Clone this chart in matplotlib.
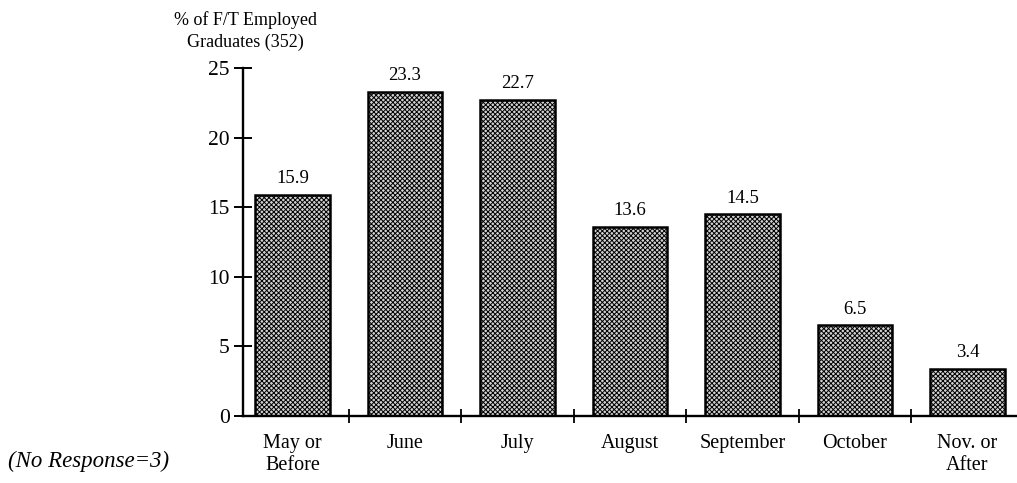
import matplotlib
matplotlib.use("Agg")
import matplotlib.pyplot as plt
import numpy as np

categories = ["May or\nBefore", "June", "July", "August", "September", "October", "Nov. or\nAfter"]
values = [15.9, 23.3, 22.7, 13.6, 14.5, 6.5, 3.4]
value_labels = ["15.9", "23.3", "22.7", "13.6", "14.5", "6.5", "3.4"]
yticks = [0, 5, 10, 15, 20, 25]

plt.rcParams['font.family'] = ['Liberation Serif', 'DejaVu Serif']
plt.rcParams['hatch.linewidth'] = 0.7
plt.rcParams['hatch.color'] = '#6a6a6a'

fig = plt.figure(figsize=(10.17, 4.83), dpi=100)
ax = fig.add_axes([0.239, 0.139, 0.761, 0.72])

x = np.arange(len(categories))
bars = ax.bar(x, values, width=0.66, facecolor='#d2d2d2', edgecolor='black',
              linewidth=1.8, hatch='xxxxxxx', zorder=2)
for xi, v, lab in zip(x, values, value_labels):
    ax.text(xi, v + 0.55, lab, ha='center', va='bottom', fontsize=13.5)

ax.set_xlim(-0.44, 6.44)
ax.set_ylim(0, 25)
ax.set_yticks(yticks)
ax.set_yticklabels([str(t) for t in yticks], fontsize=15.5)
ax.set_xticks(np.arange(0.5, 6.5, 1.0))
ax.set_xticklabels([])
ax.set_xticks(x, minor=True)
ax.set_xticklabels(categories, minor=True, fontsize=14.5, linespacing=1.2)
ax.tick_params(axis='x', which='minor', length=0, pad=13)
ax.tick_params(axis='x', which='major', direction='inout', length=10, width=1.3)
ax.tick_params(axis='y', direction='inout', length=13, width=1.4, pad=3)

for s in ['top', 'right']:
    ax.spines[s].set_visible(False)
for s in ['left', 'bottom']:
    ax.spines[s].set_linewidth(1.7)

fig.text(245 / 1017, 1 - 20 / 483, "% of F/T Employed", ha='center', va='center', fontsize=13)
fig.text(245 / 1017, 1 - 42 / 483, "Graduates (352)", ha='center', va='center', fontsize=13)
fig.text(8 / 1017, 1 - 461 / 483, "(No Response=3)", ha='left', va='center',
         fontsize=16.5, style='italic')

fig.savefig("out.png", dpi=100, facecolor='white')
